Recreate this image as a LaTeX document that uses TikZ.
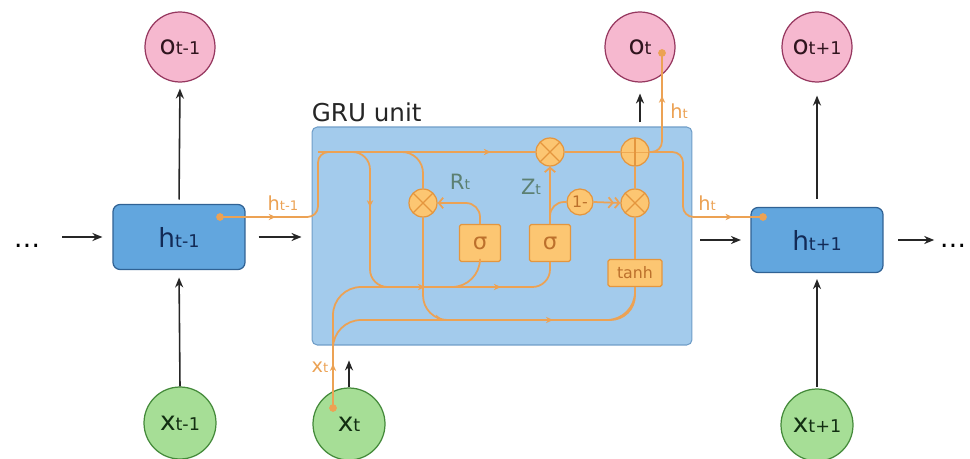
\documentclass[tikz,border=0pt]{standalone}
\usepackage{fontspec}
\setmainfont{DejaVu Sans}
\usetikzlibrary{arrows.meta, decorations.markings, calc}

\definecolor{wire}{RGB}{236,162,84}
\definecolor{gatefill}{RGB}{252,198,114}
\definecolor{gateline}{RGB}{228,150,62}
\definecolor{gatetext}{RGB}{188,112,44}
\definecolor{unitfill}{RGB}{163,203,236}
\definecolor{unitline}{RGB}{112,158,200}
\definecolor{statefill}{RGB}{98,166,222}
\definecolor{stateline}{RGB}{48,98,148}
\definecolor{statetext}{RGB}{18,42,86}
\definecolor{outfill}{RGB}{246,184,207}
\definecolor{outborder}{RGB}{150,55,95}
\definecolor{outtext}{RGB}{48,20,30}
\definecolor{infill}{RGB}{166,222,150}
\definecolor{inborder}{RGB}{68,138,58}
\definecolor{intext}{RGB}{18,46,18}
\definecolor{gatelbl}{RGB}{92,128,114}

% letter with a small index on the same baseline
\newcommand{\sublbl}[4]{{\fontsize{#1}{#1}\selectfont #3{\fontsize{#2}{#2}\selectfont #4}}}

\begin{document}
\begin{tikzpicture}[x=0.02cm, y=-0.02cm,
    outnode/.style={circle, draw=outborder, fill=outfill, line width=0.7pt, minimum size=1.4cm, inner sep=0pt, text=outtext},
    innode/.style={circle, draw=inborder, fill=infill, line width=0.7pt, minimum size=1.44cm, inner sep=0pt, text=intext},
    statebox/.style={rectangle, rounded corners=4pt, draw=stateline, fill=statefill, line width=0.7pt, minimum width=2.64cm, minimum height=1.3cm, text=statetext},
    unitbox/.style={rectangle, rounded corners=3pt, draw=unitline, fill=unitfill, line width=0.6pt, minimum width=7.6cm, minimum height=4.36cm},
    gatecirc/.style={circle, draw=gateline, fill=gatefill, line width=0.7pt, minimum size=0.56cm, inner sep=0pt, text=gatetext},
    timesgate/.style={gatecirc, path picture={\draw[gateline, line width=0.7pt] (path picture bounding box.south west) -- (path picture bounding box.north east) (path picture bounding box.north west) -- (path picture bounding box.south east);}},
    plusgate/.style={gatecirc, path picture={\draw[gateline!60!gatefill, line width=0.5pt] (path picture bounding box.west) -- (path picture bounding box.east); \draw[gateline, line width=0.8pt] (path picture bounding box.north) -- (path picture bounding box.south);}},
    gatebox/.style={rectangle, rounded corners=1pt, draw=gateline, fill=gatefill, line width=0.7pt, inner sep=0pt, text=gatetext},
    blk/.style={draw=black!85, line width=0.9pt, -{Stealth[length=5.7pt,width=4.6pt]}},
    wireline/.style={draw=wire, line width=1pt},
    arrowat/.style={postaction={decorate, decoration={markings, mark=at position #1 with {\arrow[wire]{Stealth[length=4pt,width=3.6pt]}}}}},
    gatetip/.style={-{Straight Barb[length=2.5pt,width=6pt]}}
  ]
  \fill[white] (0,0) rectangle (970,459);
  \useasboundingbox (0,0) rectangle (970,459);

  % time step t-1
  \node[inner sep=0pt] (dotsL) at (27,246) {\fontsize{15}{18}\selectfont\dots};
  \node[statebox] (hprev) at (179,237) {\sublbl{15}{10}{h}{t-1}};
  \node[outnode] (oprev) at (180,47) {\sublbl{15}{10}{o}{t-1}};
  \node[innode] (xprev) at (180,423) {\sublbl{15}{10}{x}{t-1}};

  % the unit at time t
  \node[unitbox] (gru) at (502,236) {};
  \node[anchor=base west, inner sep=0pt, text=black!85, font=\fontsize{14}{16}\selectfont] (grulbl) at ([yshift=0.1cm]gru.north west) {GRU unit};
  \node[outnode] (ocur) at (640,47) {\sublbl{15}{10}{o}{t}};
  \node[innode] (xcur) at (349,424) {\sublbl{15}{10}{x}{t}};

  % time step t+1
  \node[statebox] (hnext) at (817,240) {\sublbl{15}{10}{h}{t+1}};
  \node[outnode] (onext) at (817,47) {\sublbl{15}{10}{o}{t+1}};
  \node[innode] (xnext) at (817,425) {\sublbl{15}{10}{x}{t+1}};
  \node[inner sep=0pt] (dotsR) at (953,246) {\fontsize{15}{18}\selectfont\dots};

  % gates
  \node[timesgate] (rmul) at (423,203) {};
  \node[timesgate] (zmul) at (550,152) {};
  \node[plusgate] (plus) at (635,152) {};
  \node[timesgate] (hmul) at (635,203) {};
  \node[gatecirc, minimum size=0.52cm, font=\fontsize{9}{10}\selectfont] (oneminus) at (580,202) {1-};
  \node[gatebox, minimum width=0.82cm, minimum height=0.74cm, font=\fontsize{13}{15}\selectfont] (sigr) at (480,243) {σ};
  \node[gatebox, minimum width=0.82cm, minimum height=0.74cm, font=\fontsize{13}{15}\selectfont] (sigz) at (550,243) {σ};
  \node[gatebox, minimum width=1.08cm, minimum height=0.54cm, font=\fontsize{9}{11}\selectfont] (tanhbox) at (635,273) {tanh};
  \node[text=gatelbl] (rlbl) at (460,182) {\sublbl{12}{8}{R}{t}};
  \node[text=gatelbl] (zlbl) at (531,187) {\sublbl{12}{8}{Z}{t}};

  % wire ends
  \coordinate (hin) at (220,217);
  \coordinate (hup) at (318,152);
  \coordinate (hdrop) at (683,217);
  \coordinate (hout) at (763,217);
  \coordinate (oin) at (662,53);
  \coordinate (xin) at (333,408);
  \coordinate (resetturn) at (370,287);
  \coordinate (sigrin) at (480,287);
  \coordinate (tanhin) at (635,320);

  % black arrows along the sequence
  \draw[blk, shorten <=12.5pt, shorten >=5.7pt] (dotsL.east |- hprev.west) -- (hprev.west);
  \draw[blk, shorten <=7.4pt, shorten >=5.7pt] (hprev.east) -- (hprev.east -| gru.west);
  \draw[blk, shorten <=4.5pt, shorten >=5.4pt] (gru.east |- hnext.west) -- (hnext.west);
  \draw[blk, shorten <=8.2pt, shorten >=3pt] (hnext.east) -- (hnext.east -| dotsR.west);
  \draw[blk, shorten <=2.5pt, shorten >=3.4pt] (hprev.north) -- (oprev.south);
  \draw[blk, shorten >=4.2pt] (xprev.north) -- (hprev.south);
  \draw[blk, shorten <=2.3pt, shorten >=6.2pt] (gru.north -| ocur.south) -- (ocur.south);
  \draw[blk, shorten >=8.5pt] (xcur.north) -- (xcur.north |- gru.south);
  \draw[blk, shorten <=4.5pt, shorten >=7.4pt] (hnext.north) -- (onext.south);
  \draw[blk, shorten <=1pt, shorten >=3.4pt] (xnext.north) -- (hnext.south);

  % hidden state in and out
  \draw[wireline, rounded corners=6pt, arrowat=0.15, arrowat=0.88] (hin) -| (hup) -- (zmul.west);
  \draw[wireline] (zmul.east) -- (plus.west);
  \draw[wireline, rounded corners=6pt, arrowat=0.82] (plus.east) -| (hdrop) -- (hout);
  \draw[wireline, rounded corners=6pt, arrowat=0.6] (plus.east) -| (oin);

  % branches off the top line
  \draw[wireline, rounded corners=10pt, arrowat=0.27, arrowat=0.82] (hup) -| (resetturn) -| (sigz.south);
  \draw[wireline, rounded corners=12pt] (hup) -| (rmul.north);
  \draw[wireline, rounded corners=14pt, arrowat=0.34, arrowat=0.68] (rmul.south) |- (tanhin) -- (tanhbox.south);

  % input x_t
  \draw[wireline, rounded corners=16pt, arrowat=0.16, arrowat=0.73] (xin) |- (sigrin) -- (sigr.south);
  \draw[wireline, rounded corners=16pt] (xin) |- (tanhin) -- (tanhbox.south);

  % gate outputs
  \draw[wireline, rounded corners=8pt, gatetip] (sigr.north) |- (rmul.east);
  \draw[wireline, gatetip] (sigz.north) -- (zmul.south);
  \draw[wireline, rounded corners=8pt] (sigz.north) |- (oneminus.west);
  \draw[wireline, -{Straight Barb[length=2.5pt,width=6pt] Straight Barb[length=2.5pt,width=6pt]}] (oneminus.east) -- (hmul.west);
  \draw[wireline] (tanhbox.north) -- (hmul.south);
  \draw[wireline] (hmul.north) -- (plus.south);

  \foreach \p in {hin, hout, oin, xin}
    \fill[wire] (\p) circle[radius=2.2pt];

  % wire labels
  \node[text=wire] (hinlbl) at (283,203) {\sublbl{11}{7.5}{h}{t-1}};
  \node[text=wire] (houtlbl) at (707,203) {\sublbl{11}{7.5}{h}{t}};
  \node[text=wire] (huplbl) at (679,111) {\sublbl{11}{7.5}{h}{t}};
  \node[text=wire] (xinlbl) at (320,367) {\sublbl{11}{7.5}{x}{t}};
\end{tikzpicture}
\end{document}
